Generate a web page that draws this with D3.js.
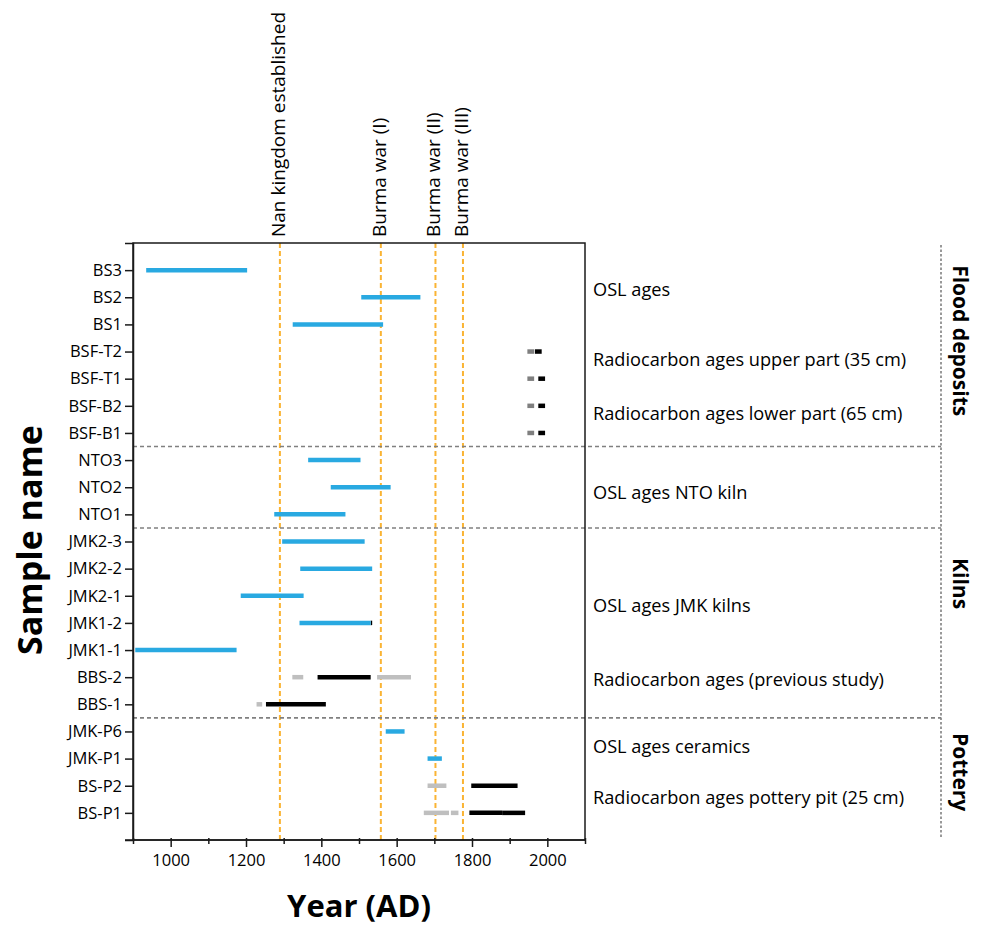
<!DOCTYPE html>
<html>
<head>
<meta charset="utf-8">
<script src="https://cdn.jsdelivr.net/npm/d3@7/dist/d3.min.js"></script>
<style>
  html, body { margin: 0; padding: 0; background: #fff; }
  svg { display: block; font-family: "Open Sans", "Noto Sans", sans-serif; }
</style>
</head>
<body>
<svg id="chart" width="983" height="929"></svg>
<script>
// Sample names, top to bottom
const samples = ["BS3", "BS2", "BS1", "BSF-T2", "BSF-T1", "BSF-B2", "BSF-B1",
  "NTO3", "NTO2", "NTO1", "JMK2-3", "JMK2-2", "JMK2-1", "JMK1-2", "JMK1-1",
  "BBS-2", "BBS-1", "JMK-P6", "JMK-P1", "BS-P2", "BS-P1"];

// OSL age ranges (years AD)
const oslAges = [
  ["BS3", 935, 1203], ["BS2", 1506, 1663], ["BS1", 1324, 1564],
  ["NTO3", 1365, 1504], ["NTO2", 1425, 1584], ["NTO1", 1275, 1464],
  ["JMK2-3", 1296, 1515], ["JMK2-2", 1344, 1535], ["JMK2-1", 1186, 1353],
  ["JMK1-2", 1342, 1531], ["JMK1-1", 906, 1175],
  ["JMK-P6", 1571, 1621], ["JMK-P1", 1682, 1720]
];

// Calibrated radiocarbon ranges, main intervals
const radiocarbonMain = [
  ["BSF-T2", 1967, 1985], ["BSF-T1", 1976, 1994], ["BSF-B2", 1976, 1994], ["BSF-B1", 1976, 1994],
  ["JMK1-2", 1531, 1535],
  ["BBS-2", 1390, 1531], ["BBS-1", 1253, 1412],
  ["BS-P2", 1798, 1921], ["BS-P1", 1793, 1880], ["BS-P1", 1880, 1941]
];

// Calibrated radiocarbon ranges, secondary intervals of modern samples
const radiocarbonModern = [
  ["BSF-T2", 1947, 1965], ["BSF-T1", 1947, 1965], ["BSF-B2", 1947, 1965], ["BSF-B1", 1947, 1965]
];

// Calibrated radiocarbon ranges, minor intervals
const radiocarbonMinor = [
  ["BBS-2", 1323, 1352], ["BBS-2", 1548, 1638], ["BBS-1", 1228, 1243],
  ["BS-P2", 1682, 1732], ["BS-P1", 1672, 1739], ["BS-P1", 1744, 1764]
];

// Historical events
const events = [
  ["Nan kingdom established", 1290], ["Burma war (I)", 1558],
  ["Burma war (II)", 1703], ["Burma war (III)", 1776]
];

// Descriptions on the right, placed by row position (0 = first sample)
const descriptions = [
  ["OSL ages", 0.7], ["Radiocarbon ages upper part (35 cm)", 3.3],
  ["Radiocarbon ages lower part (65 cm)", 5.3], ["OSL ages NTO kiln", 8.2],
  ["OSL ages JMK kilns", 12.35], ["Radiocarbon ages (previous study)", 15.1],
  ["OSL ages ceramics", 17.55], ["Radiocarbon ages pottery pit (25 cm)", 19.45]
];

// Sample groups, placed by row position
const groups = [
  ["Flood deposits", 2.6], ["Kilns", 11.55], ["Pottery", 18.5]
];

const xTicks = d3.range(900, 2101, 100);
const xLabels = [1000, 1200, 1400, 1600, 1800, 2000];

const svg = d3.select("#chart");
const plotLeft = 133, plotRight = 585, plotTop = 243, plotBottom = 840;

const x = d3.scaleLinear().domain([900, 2100]).range([plotLeft, plotRight]);
const y = d3.scalePoint().domain(samples).range([plotTop, plotBottom]).padding(1);
const rowY = i => y(samples[0]) + i * y.step();

// Historical event lines
svg.append("g").selectAll("line").data(events).join("line")
  .attr("x1", d => x(d[1])).attr("x2", d => x(d[1]))
  .attr("y1", plotTop).attr("y2", plotBottom)
  .attr("stroke", "#fab434").attr("stroke-width", 2)
  .attr("stroke-dasharray", "5,3");

svg.append("g").selectAll("text").data(events).join("text")
  .attr("transform", d => `translate(${x(d[1]) - 2},237) rotate(-90)`)
  .attr("dy", "0.35em")
  .attr("font-size", 19)
  .attr("fill", "#000")
  .text(d => d[0]);

// Group separators
const sepYs = [["BSF-B1", "NTO3"], ["NTO1", "JMK2-3"], ["BBS-1", "JMK-P6"]]
  .map(([a, b]) => (y(a) + y(b)) / 2);
svg.append("g").selectAll("line").data(sepYs).join("line")
  .attr("x1", plotLeft).attr("x2", 941)
  .attr("y1", d => d).attr("y2", d => d)
  .attr("stroke", "#808080").attr("stroke-width", 1.6)
  .attr("stroke-dasharray", "4,3");

svg.append("line")
  .attr("x1", 941).attr("x2", 941).attr("y1", plotTop + 2).attr("y2", plotBottom - 2)
  .attr("stroke", "#808080").attr("stroke-width", 1.6)
  .attr("stroke-dasharray", "2.5,2");

// Age ranges
function drawRanges(data, color) {
  svg.append("g").selectAll("line").data(data).join("line")
    .attr("x1", d => x(d[1])).attr("x2", d => x(d[2]))
    .attr("y1", d => y(d[0])).attr("y2", d => y(d[0]))
    .attr("stroke", color).attr("stroke-width", 4.5);
}
drawRanges(radiocarbonMinor, "#bfbfbf");
drawRanges(radiocarbonModern, "#7f7f7f");
drawRanges(radiocarbonMain, "#000");
drawRanges(oslAges, "#29a9e1");

// Frame
svg.append("rect")
  .attr("x", plotLeft).attr("y", plotTop)
  .attr("width", plotRight - plotLeft).attr("height", plotBottom - plotTop)
  .attr("fill", "none").attr("stroke", "#1a1a1a").attr("stroke-width", 1.5);

// Axes
const yAxis = svg.append("g").attr("transform", `translate(${plotLeft},0)`)
  .call(d3.axisLeft(y).tickSize(8).tickSizeOuter(8).tickPadding(3));
yAxis.selectAll("text").attr("font-size", 16.5).attr("fill", "#000").attr("font-family", "Open Sans");
yAxis.selectAll("line, path").attr("stroke", "#1a1a1a").attr("stroke-width", 1.5);

const xAxis = svg.append("g").attr("transform", `translate(0,${plotBottom})`)
  .call(d3.axisBottom(x).tickValues(xTicks).tickSizeOuter(0).tickPadding(8)
    .tickFormat(d => xLabels.includes(d) ? d : ""));
xAxis.selectAll(".tick line")
  .attr("y1", -2)
  .attr("y2", d => xLabels.includes(d) ? 7 : 4);
xAxis.selectAll("text").attr("font-size", 16.5).attr("fill", "#000").attr("font-family", "Open Sans");
xAxis.selectAll("line, path").attr("stroke", "#1a1a1a").attr("stroke-width", 1.5);
xAxis.select(".domain").attr("d", `M${plotLeft - 8},0H${plotRight}`);

// Descriptions
svg.append("g").selectAll("text").data(descriptions).join("text")
  .attr("x", 593).attr("y", d => rowY(d[1]))
  .attr("dy", "0.35em").attr("font-size", 18.2).attr("fill", "#000")
  .text(d => d[0]);

// Group labels
svg.append("g").selectAll("text").data(groups).join("text")
  .attr("transform", d => `translate(960,${rowY(d[1])}) rotate(90)`)
  .attr("text-anchor", "middle").attr("dy", "0.35em")
  .attr("font-size", 21).attr("font-weight", "bold").attr("fill", "#000")
  .text(d => d[0]);

// Axis titles
svg.append("text")
  .attr("transform", `translate(30,540) rotate(-90)`)
  .attr("text-anchor", "middle").attr("dy", "0.35em")
  .attr("font-size", 34).attr("font-weight", "bold").attr("fill", "#000")
  .text("Sample name");

svg.append("text")
  .attr("x", 359).attr("y", 906)
  .attr("text-anchor", "middle").attr("dy", "0.35em")
  .attr("font-size", 31).attr("font-weight", "bold").attr("fill", "#000")
  .text("Year (AD)");
</script>
</body>
</html>
